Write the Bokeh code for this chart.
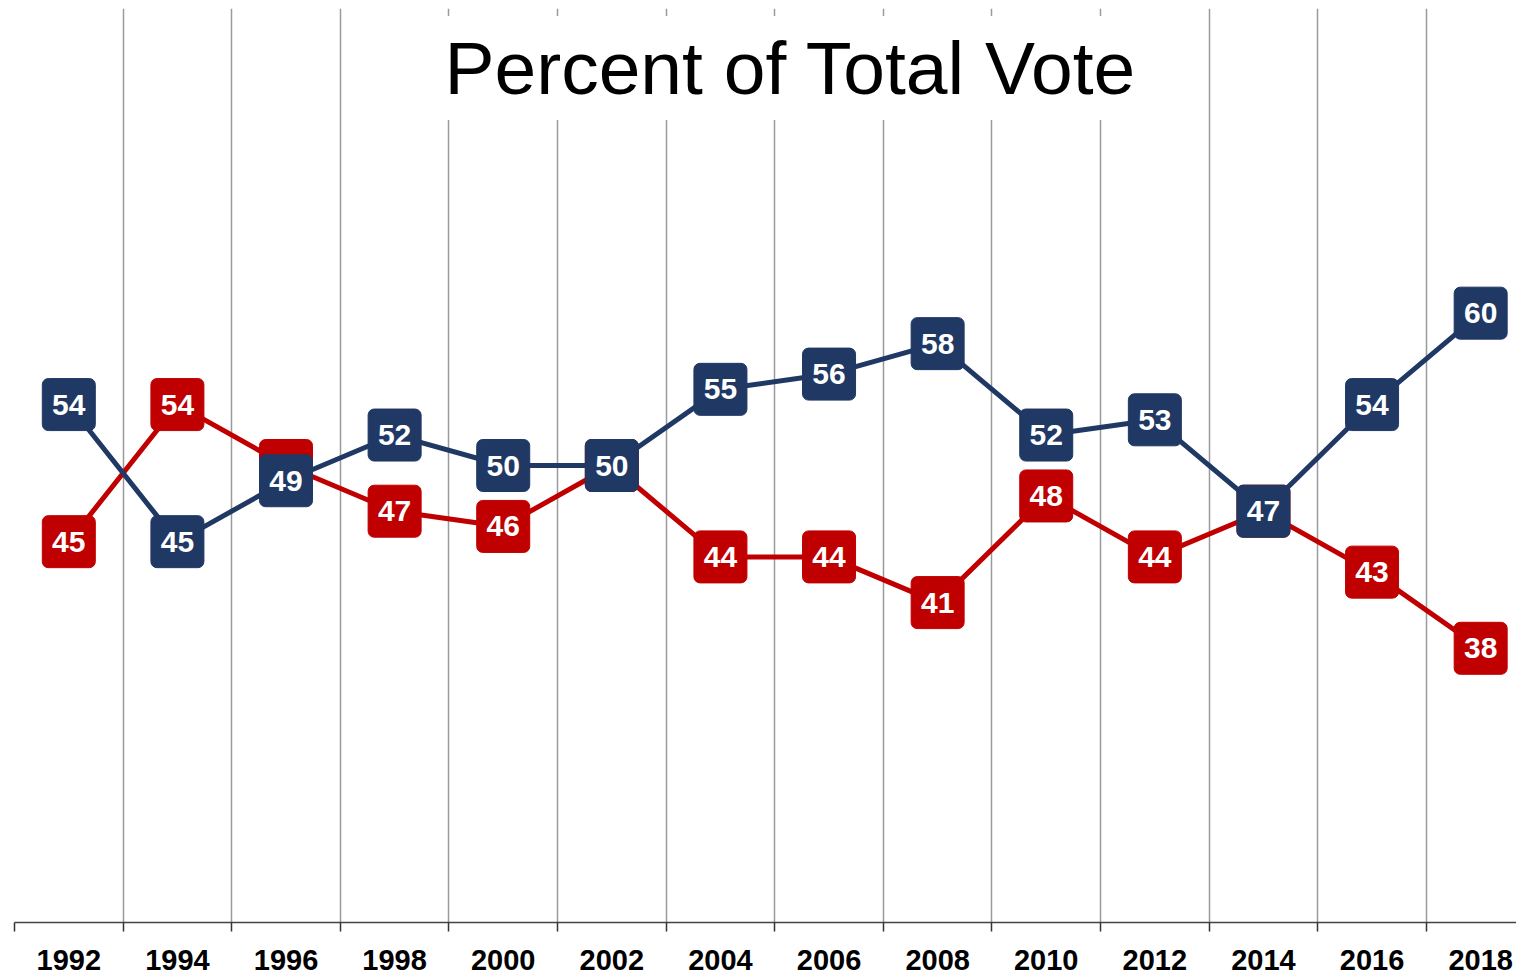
from bokeh.plotting import figure
from bokeh.models import Range1d, FixedTicker, Label, ColumnDataSource
from bokeh.core.properties import value
from bokeh.embed import file_html
from bokeh.resources import INLINE

years = [1992, 1994, 1996, 1998, 2000, 2002, 2004, 2006, 2008, 2010, 2012, 2014, 2016, 2018]
red_vals = [45, 54, 50, 47, 46, 50, 44, 44, 41, 48, 44, 47, 43, 38]
blue_vals = [54, 45, 49, 52, 50, 50, 55, 56, 58, 52, 53, 47, 54, 60]
tick_labels = [str(y) for y in years]
boundaries = [y - 1 for y in years]
title_text = "Percent of Total Vote"

RED = "#C00000"
BLUE = "#203864"
FONT = "Liberation Sans"

p = figure(width=1516, height=976, output_backend="svg", toolbar_location=None,
           x_range=Range1d(1991, 2018.66), y_range=Range1d(20, 80),
           min_border_left=14, min_border_right=0, min_border_top=8,
           min_border_bottom=54)
p.outline_line_color = None
p.yaxis.visible = False
p.ygrid.visible = False

p.xgrid.ticker = FixedTicker(ticks=boundaries)
p.xgrid.grid_line_color = "#9a9a9a"
p.xgrid.grid_line_width = 1.5

ax = p.xaxis[0]
ax.ticker = FixedTicker(ticks=years, minor_ticks=boundaries)
ax.major_label_overrides = {y: s for y, s in zip(years, tick_labels)}
ax.major_tick_line_color = None
ax.major_tick_out = 0
ax.major_tick_in = 0
ax.minor_tick_line_color = "#333333"
ax.minor_tick_line_width = 1.5
ax.minor_tick_out = 9
ax.minor_tick_in = 0
ax.axis_line_color = "#444444"
ax.axis_line_width = 1.5
ax.major_label_text_font = FONT
ax.major_label_text_font_style = "bold"
ax.major_label_text_font_size = "29px"
ax.major_label_text_color = "black"
ax.major_label_standoff = 18

title = Label(x=2005.29, y=76.1, text=title_text, text_align="center", text_baseline="middle",
              text_font=FONT, text_font_size="75px", text_color="black",
              background_fill_color="white", padding=10)
p.add_layout(title)

src_r = ColumnDataSource(dict(x=years, y=red_vals, t=[str(v) for v in red_vals]))
src_b = ColumnDataSource(dict(x=years, y=blue_vals, t=[str(v) for v in blue_vals]))

for src, col in ((src_r, RED), (src_b, BLUE)):
    p.line("x", "y", source=src, line_color=col, line_width=5)
    p.rect("x", "y", width=53, height=52, width_units="screen", height_units="screen",
           source=src, fill_color=col, line_color=col, line_width=1, border_radius=6)
    p.text("x", "y", text="t", source=src, text_color="white", text_font=value(FONT),
           text_font_style="bold", text_font_size="30px", text_align="center",
           text_baseline="middle")

open("out.html", "w").write(file_html(p, INLINE))
